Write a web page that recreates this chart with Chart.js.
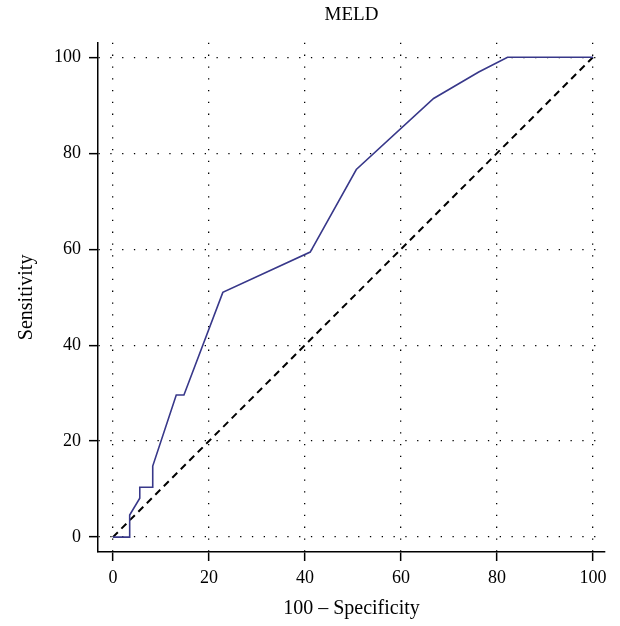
<!DOCTYPE html>
<html>
<head>
<meta charset="utf-8">
<script src="https://cdn.jsdelivr.net/npm/chart.js@4/dist/chart.umd.min.js"></script>
<style>
html,body{margin:0;padding:0;background:#fff;}
#wrap{width:620px;height:626px;}
</style>
</head>
<body>
<div id="wrap"><canvas id="c" width="620" height="626"></canvas></div>
<script>
const rocX = [0, 3.5, 3.5, 5.6, 5.6, 8.3, 8.3, 13.2, 14.8, 22.9, 41.1, 50.7, 66.8, 76.2, 82.2, 100];
const rocY = [0, 0, 4.6, 8.1, 10.4, 10.4, 14.8, 29.6, 29.6, 51.0, 59.4, 76.6, 91.4, 96.9, 100, 100];
const refX = [0, 100];
const refY = [0, 100];
const tickValues = [0, 20, 40, 60, 80, 100];
const titleText = 'MELD';
const xTitle = '100 \u2013 Specificity';
const yTitle = 'Sensitivity';

const serif = "'Liberation Serif', 'DejaVu Serif', serif";
const setTicks = s => { s.ticks = tickValues.map(v => ({value: v})); };

new Chart(document.getElementById('c'), {
  type: 'scatter',
  data: {
    datasets: [
      {
        data: rocX.map((x, i) => ({x: x, y: rocY[i]})),
        showLine: true,
        borderColor: '#38388a',
        borderWidth: 1.6,
        pointRadius: 0,
        tension: 0
      },
      {
        data: refX.map((x, i) => ({x: x, y: refY[i]})),
        showLine: true,
        borderColor: '#000',
        borderWidth: 2,
        borderDash: [7, 5],
        pointRadius: 0
      }
    ]
  },
  options: {
    responsive: false,
    animation: false,
    layout: {padding: {left: 0, right: 15, top: 0, bottom: 0}},
    plugins: {
      legend: {display: false},
      tooltip: {enabled: false},
      title: {
        display: true,
        text: titleText,
        color: '#000',
        fullSize: false,
        align: 'center',
        font: {family: serif, size: 19, weight: 'normal', lineHeight: 1.2},
        padding: {top: 4, bottom: 16}
      }
    },
    scales: {
      x: {
        type: 'linear',
        min: -3.1,
        max: 102.5,
        afterBuildTicks: setTicks,
        afterFit: s => { s.height = 74; },
        grid: {color: '#000', lineWidth: 1.3, drawTicks: true, tickLength: 9, tickColor: '#000', tickWidth: 1.5, tickBorderDash: []},
        border: {display: true, color: '#000', width: 1.5, dash: [1.3, 10.5]},
        ticks: {color: '#000', font: {family: serif, size: 18}, padding: 6, maxRotation: 0},
        title: {display: true, text: xTitle, color: '#000', font: {family: serif, size: 20}, padding: {top: 0, bottom: 5}}
      },
      y: {
        type: 'linear',
        min: -3.1,
        max: 103,
        afterBuildTicks: setTicks,
        afterFit: s => { s.width = 98; },
        grid: {color: '#000', lineWidth: 1.3, drawTicks: true, tickLength: 9, tickColor: '#000', tickWidth: 1.5, tickBorderDash: []},
        border: {display: true, color: '#000', width: 1.5, dash: [1.3, 10.5]},
        ticks: {color: '#000', font: {family: serif, size: 18}, padding: 8},
        title: {display: true, text: yTitle, color: '#000', font: {family: serif, size: 20}, padding: {top: 15, bottom: 0}}
      }
    }
  }
});
</script>
</body>
</html>
